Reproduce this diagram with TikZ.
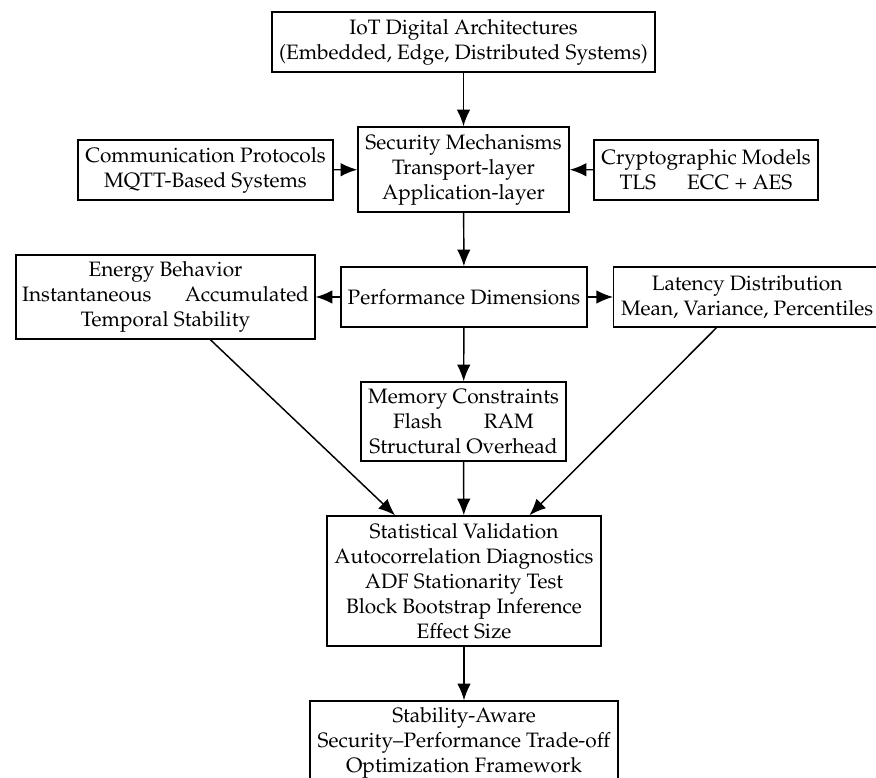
\documentclass[tikz,border=0pt]{standalone}
\usepackage[T1]{fontenc}
\usepackage{mathpazo}
\usetikzlibrary{arrows.meta}
\begin{document}
\begin{tikzpicture}[x=0.48pt,y=-0.48pt,
    box/.style={draw,line width=0.7pt,align=center,inner sep=2pt,minimum height=28.8pt},
    arr/.style={line width=0.7pt,-{Latex[length=8pt,width=6.5pt]}}]
    \useasboundingbox (0,0) rectangle (876,778);
    \node[box,minimum width=183.8pt] (iot) at (463.5,42) {IoT Digital Architectures\\(Embedded, Edge, Distributed Systems)};
    \node[box,minimum width=101.3pt,minimum height=40.8pt] (sec) at (463.5,169.5) {Security Mechanisms\\Transport-layer\\Application-layer};
    \node[box,minimum width=122.4pt] (comm) at (205.5,170) {Communication Protocols\\MQTT-Based Systems};
    \node[box,minimum width=107.5pt] (crypto) at (706,170) {Cryptographic Models\\TLS\hspace{1.5em}ECC + AES};
    \node[box,minimum width=143.5pt,minimum height=40.3pt] (energy) at (165.5,297) {Energy Behavior\\Instantaneous\hspace{1.6em}Accumulated\\Temporal Stability};
    \node[box,minimum width=118.1pt] (perf) at (464,297) {Performance Dimensions};
    \node[box,anchor=west,inner xsep=3.5pt] (lat) at (613,297) {Latency Distribution\\Mean, Variance, Percentiles};
    \node[box,minimum width=98.4pt,minimum height=37.9pt] (mem) at (463.5,421.5) {Memory Constraints\\Flash\qquad RAM\\Structural Overhead};
    \node[box,minimum width=131.5pt,minimum height=62.4pt] (stat) at (464,581) {Statistical Validation\\Autocorrelation Diagnostics\\ADF Stationarity Test\\Block Bootstrap Inference\\Effect Size};
    \node[box,minimum width=147.8pt,minimum height=40.3pt] (final) at (464,743) {Stability-Aware\\Security--Performance Trade-off\\Optimization Framework};
    \draw[arr] (iot) -- (sec);
    \draw[arr] (comm) -- (sec);
    \draw[arr] (crypto) -- (sec);
    \draw[arr] (sec) -- (perf);
    \draw[arr] (perf) -- (energy);
    \draw[arr] (perf) -- (lat.west);
    \draw[arr] (perf) -- (mem);
    \draw[arr] (energy) -- (stat);
    \draw[arr] (mem) -- (stat);
    \draw[arr] (lat) -- (stat);
    \draw[arr] (stat) -- (final);
\end{tikzpicture}
\end{document}
